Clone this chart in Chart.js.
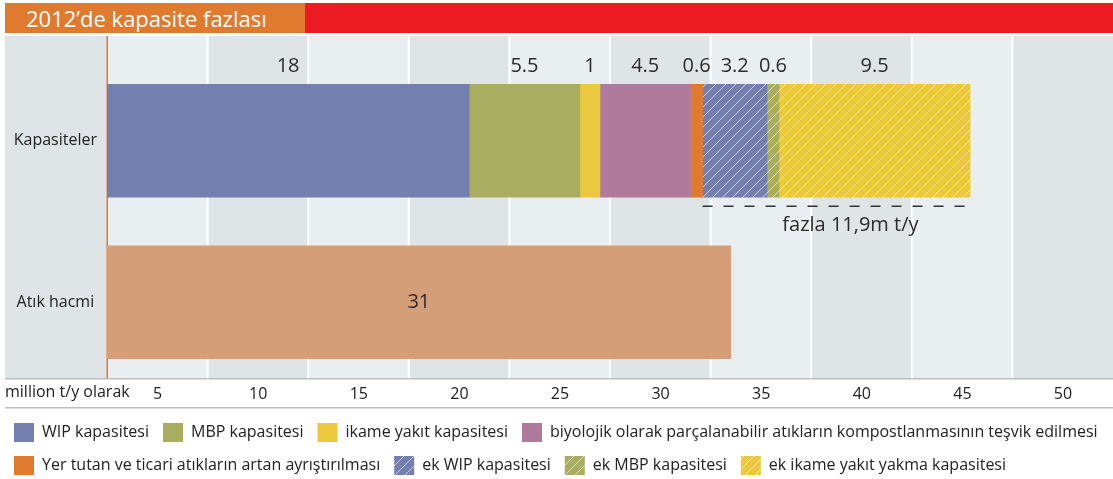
<!DOCTYPE html>
<html lang="tr">
<head>
<meta charset="UTF-8">
<title>2012’de kapasite fazlası</title>
<script src="https://cdn.jsdelivr.net/npm/chart.js"></script>
<style>
  body { margin: 0; background: #fff; font-family: "Open Sans", sans-serif; }
  #wrap { position: relative; width: 1113px; height: 479px; }
  #wrap canvas { position: absolute; left: 0; top: 0; }
  .baslik { position: absolute; top: 3px; left: 5px; width: 279px; height: 30px; padding-left: 21px;
            background: #e07a2f; color: #fff; font-size: 22px; line-height: 30px; }
  .serit { position: absolute; top: 3px; left: 305px; right: 0; height: 30px; background: #ed1c24; }
</style>
</head>
<body>
<div id="wrap">
  <canvas id="kapasite"></canvas>
  <div class="baslik">2012’de kapasite fazlası</div>
  <div class="serit"></div>
</div>
<script>
// veriler
const kategoriler = ['Kapasiteler', 'Atık hacmi'];
const seriAdlari = [
  'WIP kapasitesi',
  'MBP kapasitesi',
  'ikame yakıt kapasitesi',
  'biyolojik olarak parçalanabilir atıkların kompostlanmasının teşvik edilmesi',
  'Yer tutan ve ticari atıkların artan ayrıştırılması',
  'ek WIP kapasitesi',
  'ek MBP kapasitesi',
  'ek ikame yakıt yakma kapasitesi'
];
const kapasiteler = [18, 5.5, 1, 4.5, 0.6, 3.2, 0.6, 9.5];
const atikHacmi = [null, 31];
const eksenTikleri = [5, 10, 15, 20, 25, 30, 35, 40, 45, 50];
const eksenBirimi = 'million t/y olarak';
const fazlaEtiketi = 'fazla 11,9m t/y';

// stil
const renkler = ['#737fae', '#a9ad5f', '#ecc83f', '#b07a9c', '#e07a2f', '#737fae', '#a9ad5f', '#ecc83f'];
const tarali = [false, false, false, false, false, true, true, true];
const yazi = '"Open Sans", sans-serif';

function tarama(renk) {
  const c = document.createElement('canvas');
  c.width = 10; c.height = 10;
  const g = c.getContext('2d');
  g.fillStyle = renk;
  g.fillRect(0, 0, 10, 10);
  g.strokeStyle = 'rgba(255,255,255,0.6)';
  g.lineWidth = 1;
  g.beginPath();
  g.moveTo(0, 10); g.lineTo(10, 0);
  g.moveTo(-5, 5); g.lineTo(5, -5);
  g.moveTo(5, 15); g.lineTo(15, 5);
  g.stroke();
  return g.createPattern(c, 'repeat');
}

const datasets = kapasiteler.map((v, i) => ({
  label: seriAdlari[i],
  data: [v, null],
  backgroundColor: tarali[i] ? tarama(renkler[i]) : renkler[i]
}));
datasets.push({ label: kategoriler[1], data: atikHacmi, backgroundColor: '#d49e79' });

// arka plan bantlari, eksen cizgileri
const arkaPlan = {
  id: 'arkaPlan',
  beforeDraw(chart) {
    const { ctx, scales: { x } } = chart;
    const ust = 36, alt = 378, sol = 5, sag = chart.width;
    ctx.save();
    ctx.fillStyle = '#dfe4e7';
    ctx.fillRect(sol, ust, x.left - sol, alt - ust);
    eksenTikleri.forEach((t, i) => {
      const x0 = x.getPixelForValue(t - 5);
      const x1 = i === eksenTikleri.length - 1 ? sag : x.getPixelForValue(t);
      ctx.fillStyle = i % 2 ? '#dfe4e7' : '#e9eef1';
      ctx.fillRect(x0, ust, x1 - x0, alt - ust);
    });
    ctx.fillStyle = '#fff';
    eksenTikleri.slice(0, -1).forEach(t => {
      ctx.fillRect(x.getPixelForValue(t) - 1, ust, 2, alt - ust);
    });
    ctx.fillStyle = '#e07a2f';
    ctx.fillRect(x.left - 0.5, ust, 1.5, alt - ust);
    ctx.fillStyle = '#b9bfc4';
    ctx.fillRect(sol, alt, sag - sol, 1.5);
    ctx.fillRect(sol, 407, sag - sol, 1.5);
    ctx.fillStyle = '#222';
    ctx.font = '16px ' + yazi;
    ctx.textAlign = 'left';
    ctx.textBaseline = 'middle';
    ctx.fillText(eksenBirimi, sol, 392);
    ctx.restore();
  }
};

// deger etiketleri ve fazla kapasite cizgisi
const etiketler = {
  id: 'etiketler',
  afterDatasetsDraw(chart) {
    const { ctx } = chart;
    ctx.save();
    ctx.fillStyle = '#2b2b2b';
    ctx.font = '20px ' + yazi;
    ctx.textAlign = 'center';
    ctx.textBaseline = 'middle';
    kapasiteler.forEach((v, i) => {
      const bar = chart.getDatasetMeta(i).data[0];
      ctx.fillText(String(v), (bar.x + bar.base) / 2, bar.y - bar.height / 2 - 18);
    });
    const atik = chart.getDatasetMeta(8).data[1];
    ctx.fillText(String(atikHacmi[1]), (atik.x + atik.base) / 2, atik.y);

    const ilk = chart.getDatasetMeta(5).data[0];
    const son = chart.getDatasetMeta(7).data[0];
    const yc = son.y + son.height / 2 + 9;
    ctx.strokeStyle = '#333';
    ctx.lineWidth = 1.5;
    ctx.setLineDash([10, 11]);
    ctx.beginPath();
    ctx.moveTo(ilk.base, yc);
    ctx.lineTo(son.x, yc);
    ctx.stroke();
    ctx.fillText(fazlaEtiketi, (atik.x + son.x) / 2, yc + 19);
    ctx.restore();
  }
};

new Chart(document.getElementById('kapasite'), {
  type: 'bar',
  data: { labels: kategoriler, datasets: datasets },
  options: {
    indexAxis: 'y',
    responsive: true,
    maintainAspectRatio: false,
    animation: false,
    layout: { padding: { top: 60, bottom: -6, left: 0, right: 0 } },
    datasets: { bar: { barThickness: 113, borderWidth: 0 } },
    scales: {
      x: {
        stacked: true,
        min: 0,
        max: 50,
        grid: { display: false, drawTicks: false },
        border: { display: false },
        afterBuildTicks: s => { s.ticks = [0, ...eksenTikleri].map(v => ({ value: v })); },
        afterFit: s => { s.height = 26; s.paddingLeft = 0; s.paddingRight = 0; },
        ticks: {
          callback: v => (v === 0 ? '' : v),
          labelOffset: -50,
          padding: 2,
          maxRotation: 0,
          autoSkip: false,
          color: '#222',
          font: { family: yazi, size: 16 }
        }
      },
      y: {
        stacked: true,
        grid: { display: false, drawTicks: false },
        border: { display: false },
        afterFit: s => { s.width = 107; },
        ticks: { crossAlign: 'center', padding: 10, color: '#222', font: { family: yazi, size: 16 } }
      }
    },
    plugins: {
      legend: {
        position: 'bottom',
        align: 'start',
        labels: {
          boxWidth: 20,
          boxHeight: 19,
          padding: 14,
          color: '#222',
          font: { family: yazi, size: 16 },
          filter: item => item.datasetIndex < 8
        }
      },
      tooltip: { enabled: false }
    }
  },
  plugins: [arkaPlan, etiketler]
});
</script>
</body>
</html>
